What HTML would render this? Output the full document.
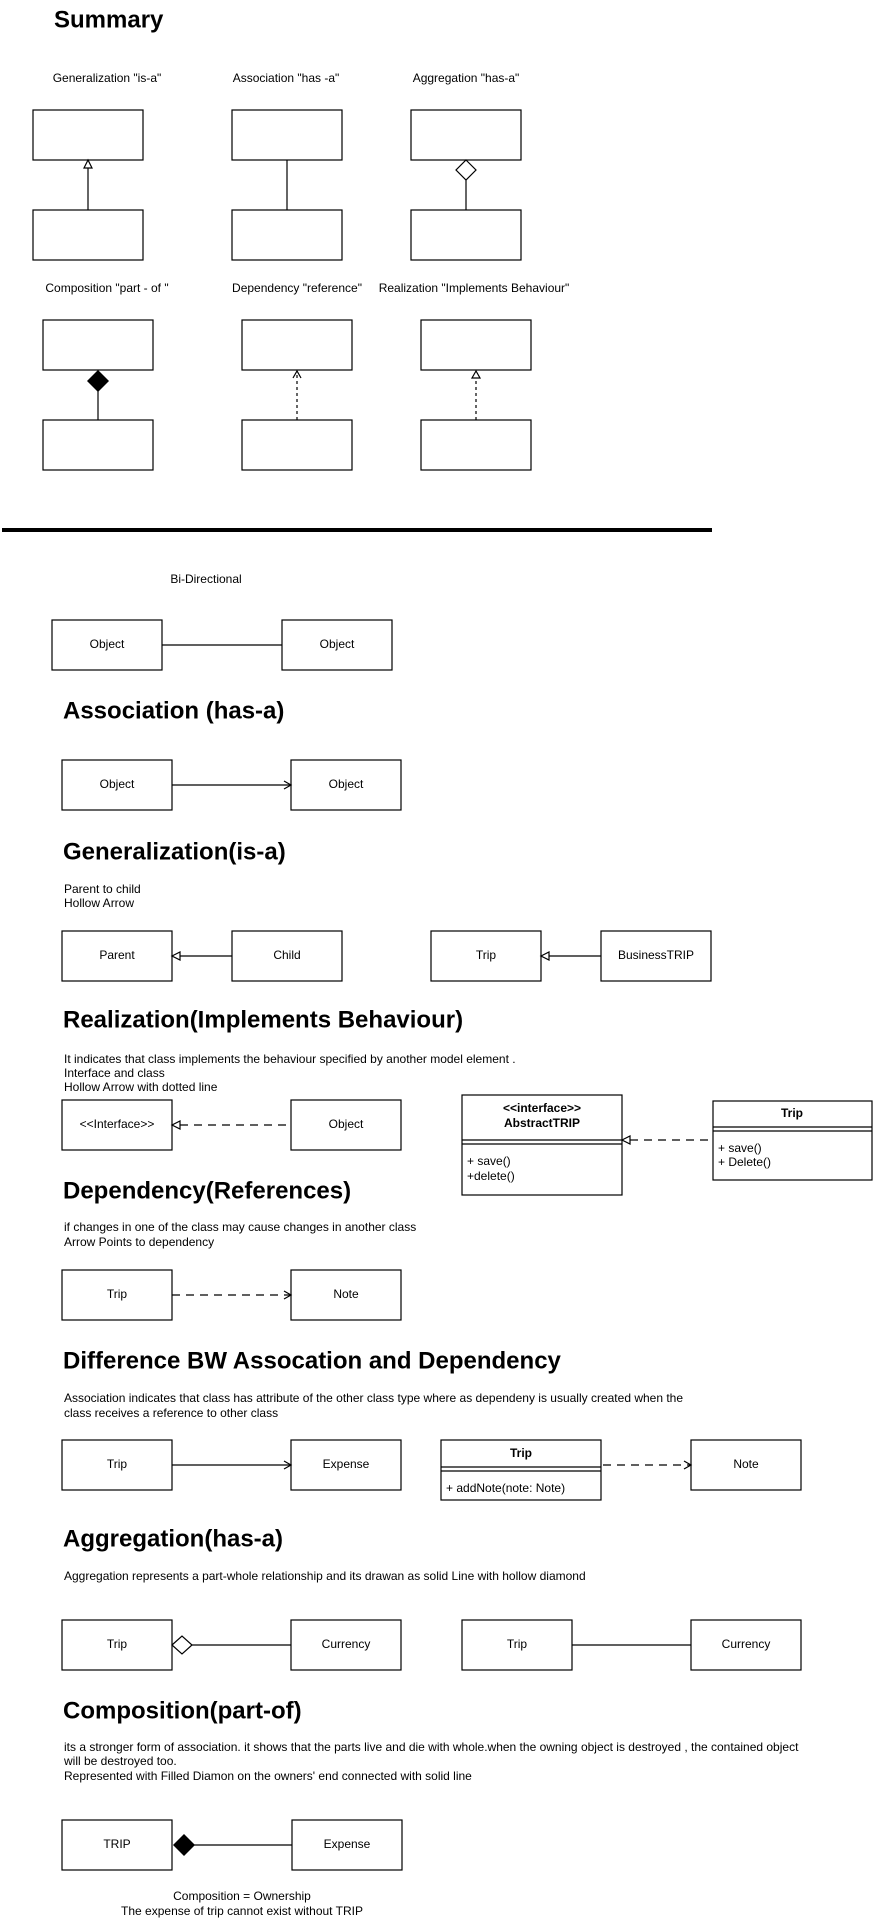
<!DOCTYPE html>
<html><head><meta charset="utf-8"><style>
html,body{margin:0;padding:0;background:#fff;}
svg{display:block;font-family:"Liberation Sans",Arial,sans-serif;}
.b{fill:#fff;stroke:#000;stroke-width:1.2;}
.l{stroke:#000;stroke-width:1.2;fill:none;}
.d{stroke:#000;stroke-width:1.2;fill:none;stroke-dasharray:8 6;}
.ds{stroke:#000;stroke-width:1.2;fill:none;stroke-dasharray:3 3;}
.t{font-size:12px;dominant-baseline:middle;}
.c{text-anchor:middle;}
.h{font-size:24px;font-weight:bold;dominant-baseline:middle;}
</style></head><body>
<svg width="873" height="1920" viewBox="0 0 873 1920">
<text class="h" x="54" y="21">Summary</text>
<text class="t c" x="107" y="79">Generalization  "is-a"</text>
<text class="t c" x="286" y="79">Association "has -a"</text>
<text class="t c" x="466" y="79">Aggregation "has-a"</text>
<rect class="b" x="33" y="110" width="110" height="50"/><rect class="b" x="33" y="210" width="110" height="50"/>
<line class="l" x1="88" y1="210" x2="88" y2="167"/><polygon class="b" points="88,160 84,168 92,168"/>
<rect class="b" x="232" y="110" width="110" height="50"/><rect class="b" x="232" y="210" width="110" height="50"/>
<line class="l" x1="287" y1="160" x2="287" y2="210"/>
<rect class="b" x="411" y="110" width="110" height="50"/><rect class="b" x="411" y="210" width="110" height="50"/>
<line class="l" x1="466" y1="180" x2="466" y2="210"/><polygon class="b" points="466,160 476,170 466,180 456,170"/>

<text class="t c" x="107" y="289">Composition "part - of "</text>
<text class="t c" x="297" y="289">Dependency "reference"</text>
<text class="t c" x="474" y="289">Realization "Implements Behaviour"</text>
<rect class="b" x="43" y="320" width="110" height="50"/><rect class="b" x="43" y="420" width="110" height="50"/>
<line class="l" x1="98" y1="390" x2="98" y2="420"/><polygon points="98,370 109,381 98,392 87,381" fill="#000"/>
<rect class="b" x="242" y="320" width="110" height="50"/><rect class="b" x="242" y="420" width="110" height="50"/>
<line class="ds" x1="297" y1="420" x2="297" y2="371"/><polyline class="l" points="293,378 297,371 301,378"/>
<rect class="b" x="421" y="320" width="110" height="50"/><rect class="b" x="421" y="420" width="110" height="50"/>
<line class="ds" x1="476" y1="420" x2="476" y2="378"/><polygon class="b" points="476,371 472,378 480,378"/>

<rect x="2" y="528" width="710" height="4" fill="#000"/>

<text class="t c" x="206" y="580">Bi-Directional</text>
<rect class="b" x="52" y="620" width="110" height="50"/><text class="t c" x="107" y="645">Object</text>
<rect class="b" x="282" y="620" width="110" height="50"/><text class="t c" x="337" y="645">Object</text>
<line class="l" x1="162" y1="645" x2="282" y2="645"/>

<text class="h" x="63" y="712">Association (has-a)</text>
<rect class="b" x="62" y="760" width="110" height="50"/><text class="t c" x="117" y="785">Object</text>
<rect class="b" x="291" y="760" width="110" height="50"/><text class="t c" x="346" y="785">Object</text>
<line class="l" x1="172" y1="785" x2="290" y2="785"/><polyline class="l" points="284,781 291,785 284,789"/>

<text class="h" x="63" y="853">Generalization(is-a)</text>
<text class="t" x="64" y="890">Parent to child</text>
<text class="t" x="64" y="904">Hollow Arrow</text>
<rect class="b" x="62" y="931" width="110" height="50"/><text class="t c" x="117" y="956">Parent</text>
<rect class="b" x="232" y="931" width="110" height="50"/><text class="t c" x="287" y="956">Child</text>
<line class="l" x1="180" y1="956" x2="232" y2="956"/><polygon class="b" points="172,956 180,952 180,960"/>
<rect class="b" x="431" y="931" width="110" height="50"/><text class="t c" x="486" y="956">Trip</text>
<rect class="b" x="601" y="931" width="110" height="50"/><text class="t c" x="656" y="956">BusinessTRIP</text>
<line class="l" x1="549" y1="956" x2="601" y2="956"/><polygon class="b" points="541,956 549,952 549,960"/>

<text class="h" x="63" y="1021">Realization(Implements Behaviour)</text>
<text class="t" x="64" y="1060">It indicates that class implements the behaviour specified by another model element .</text>
<text class="t" x="64" y="1074">Interface and class</text>
<text class="t" x="64" y="1088">Hollow Arrow with dotted line</text>
<rect class="b" x="62" y="1100" width="110" height="50"/><text class="t c" x="117" y="1125">&lt;&lt;Interface&gt;&gt;</text>
<rect class="b" x="291" y="1100" width="110" height="50"/><text class="t c" x="346" y="1125">Object</text>
<line class="d" x1="180" y1="1125" x2="291" y2="1125"/><polygon class="b" points="172,1125 180,1121 180,1129"/>
<rect class="b" x="462" y="1095" width="160" height="100"/>
<text class="t c" x="542" y="1109" font-weight="bold">&lt;&lt;interface&gt;&gt;</text>
<text class="t c" x="542" y="1124" font-weight="bold">AbstractTRIP</text>
<line class="l" x1="462" y1="1140" x2="622" y2="1140"/><line class="l" x1="462" y1="1144" x2="622" y2="1144"/>
<text class="t" x="467" y="1162">+ save()</text><text class="t" x="467" y="1177">+delete()</text>
<rect class="b" x="713" y="1101" width="159" height="79"/>
<text class="t c" x="792" y="1114" font-weight="bold">Trip</text>
<line class="l" x1="713" y1="1127" x2="872" y2="1127"/><line class="l" x1="713" y1="1131" x2="872" y2="1131"/>
<text class="t" x="718" y="1149">+ save()</text><text class="t" x="718" y="1163">+ Delete()</text>
<line class="d" x1="630" y1="1140" x2="713" y2="1140"/><polygon class="b" points="622,1140 630,1136 630,1144"/>

<text class="h" x="63" y="1192">Dependency(References)</text>
<text class="t" x="64" y="1228">if changes in one of the class may cause changes in another class</text>
<text class="t" x="64" y="1243">Arrow Points to dependency</text>
<rect class="b" x="62" y="1270" width="110" height="50"/><text class="t c" x="117" y="1295">Trip</text>
<rect class="b" x="291" y="1270" width="110" height="50"/><text class="t c" x="346" y="1295">Note</text>
<line class="d" x1="172" y1="1295" x2="290" y2="1295"/><polyline class="l" points="284,1291 291,1295 284,1299"/>

<text class="h" x="63" y="1362">Difference BW Assocation and Dependency</text>
<text class="t" x="64" y="1399">Association indicates that class has attribute of the other class type where as dependeny is usually created when the</text>
<text class="t" x="64" y="1414">class receives a reference to other class</text>
<rect class="b" x="62" y="1440" width="110" height="50"/><text class="t c" x="117" y="1465">Trip</text>
<rect class="b" x="291" y="1440" width="110" height="50"/><text class="t c" x="346" y="1465">Expense</text>
<line class="l" x1="172" y1="1465" x2="290" y2="1465"/><polyline class="l" points="284,1461 291,1465 284,1469"/>
<rect class="b" x="441" y="1440" width="160" height="60"/>
<text class="t c" x="521" y="1454" font-weight="bold">Trip</text>
<line class="l" x1="441" y1="1467" x2="601" y2="1467"/><line class="l" x1="441" y1="1471" x2="601" y2="1471"/>
<text class="t" x="446" y="1489">+ addNote(note: Note)</text>
<rect class="b" x="691" y="1440" width="110" height="50"/><text class="t c" x="746" y="1465">Note</text>
<line class="d" x1="603" y1="1465" x2="690" y2="1465"/><polyline class="l" points="684,1461 691,1465 684,1469"/>

<text class="h" x="63" y="1540">Aggregation(has-a)</text>
<text class="t" x="64" y="1577">Aggregation represents a part-whole relationship and its drawan as solid Line with hollow diamond</text>
<rect class="b" x="62" y="1620" width="110" height="50"/><text class="t c" x="117" y="1645">Trip</text>
<rect class="b" x="291" y="1620" width="110" height="50"/><text class="t c" x="346" y="1645">Currency</text>
<line class="l" x1="192" y1="1645" x2="291" y2="1645"/><polygon class="b" points="172,1645 182,1636 192,1645 182,1654"/>
<rect class="b" x="462" y="1620" width="110" height="50"/><text class="t c" x="517" y="1645">Trip</text>
<rect class="b" x="691" y="1620" width="110" height="50"/><text class="t c" x="746" y="1645">Currency</text>
<line class="l" x1="572" y1="1645" x2="691" y2="1645"/>

<text class="h" x="63" y="1712">Composition(part-of)</text>
<text class="t" x="64" y="1748">its a stronger form of association. it shows that the parts live and die with whole.when the owning object is destroyed , the contained object</text>
<text class="t" x="64" y="1762">will be destroyed too.</text>
<text class="t" x="64" y="1777">Represented with Filled Diamon on the owners' end connected with solid line</text>
<rect class="b" x="62" y="1820" width="110" height="50"/><text class="t c" x="117" y="1845">TRIP</text>
<rect class="b" x="292" y="1820" width="110" height="50"/><text class="t c" x="347" y="1845">Expense</text>
<line class="l" x1="194" y1="1845" x2="292" y2="1845"/><polygon points="173,1845 184,1834 195,1845 184,1856" fill="#000"/>
<text class="t c" x="242" y="1897">Composition = Ownership</text>
<text class="t c" x="242" y="1912">The expense of trip cannot exist without TRIP</text>
</svg>
</body></html>
